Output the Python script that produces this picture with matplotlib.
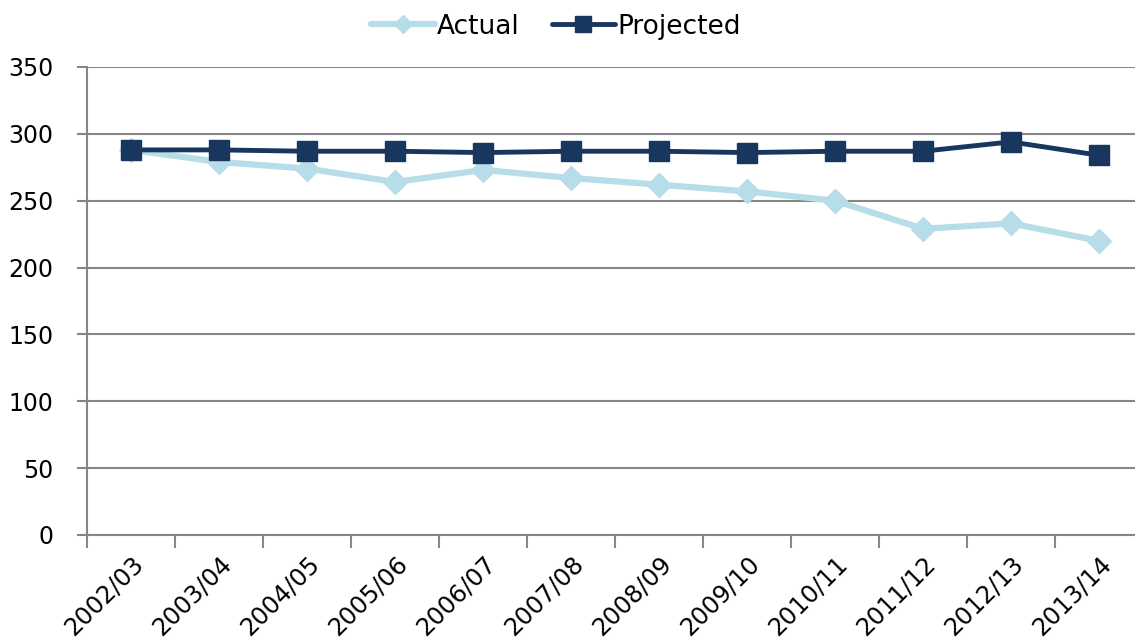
import matplotlib.pyplot as plt
import numpy as np

years = ['2002/03', '2003/04', '2004/05', '2005/06', '2006/07', '2007/08',
         '2008/09', '2009/10', '2010/11', '2011/12', '2012/13', '2013/14']
actual = [288, 279, 274, 264, 273, 267, 262, 257, 250, 229, 233, 220]
projected = [288, 288, 287, 287, 286, 287, 287, 286, 287, 287, 294, 284]

plt.rcParams['font.family'] = ['DejaVu Sans']
grey = '#868686'

fig = plt.figure(figsize=(11.35, 6.4), dpi=100)
ax = fig.add_axes([87 / 1135, 1 - 535 / 640, (1143 - 87) / 1135, 468 / 640])

x = np.arange(len(years))
ax.plot(x, actual, color='#B7DDE8', lw=4.5, marker='D', markersize=12,
        label='Actual', zorder=3, solid_capstyle='round')
ax.plot(x, projected, color='#17375E', lw=3.5, marker='s', markersize=14,
        label='Projected', zorder=4, solid_capstyle='round')

ax.set_xlim(-0.5, len(years) - 0.5)
ax.set_ylim(0, 350)
ax.set_yticks(np.arange(0, 351, 50))
ax.yaxis.grid(True, color=grey, lw=1.5)
ax.set_axisbelow(True)

# labels sit at the category centres, tick marks at the boundaries
ax.set_xticks(x)
ax.set_xticklabels(years, rotation=45, ha='right', rotation_mode='anchor')
ax.set_xticks(np.arange(-0.5, len(years)), minor=True)
ax.tick_params(axis='x', which='major', length=0, pad=12, labelsize=17.5)
ax.tick_params(axis='x', which='minor', length=9, width=1.5, color=grey)
ax.tick_params(axis='y', length=7, width=1.5, color=grey, labelsize=17, pad=17)

for side in ['top', 'right']:
    ax.spines[side].set_visible(False)
for side in ['left', 'bottom']:
    ax.spines[side].set_color(grey)
    ax.spines[side].set_linewidth(1.5)

fig.legend(loc='upper center', bbox_to_anchor=(0.49, 1.016),
           ncol=2, frameon=False, fontsize=19, markerscale=0.8,
           handlelength=2.4, columnspacing=1.2, handletextpad=0.1)

fig.savefig('out.png', dpi=100)
